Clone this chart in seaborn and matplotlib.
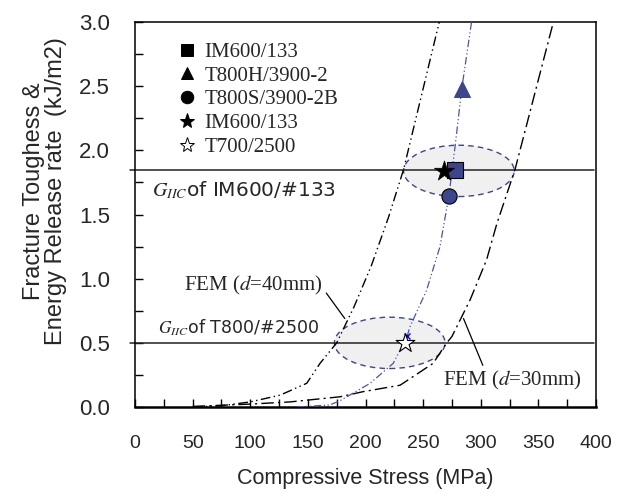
import matplotlib
matplotlib.use("Agg")
import matplotlib.pyplot as plt
from matplotlib.patches import Ellipse
from matplotlib.lines import Line2D
from matplotlib.ticker import MultipleLocator, FormatStrFormatter
import seaborn as sns
import pandas as pd

# --- curves (stress MPa, G kJ/m2) ---
fem40_x = [50, 75, 100, 126, 149, 160.5, 175, 190, 205, 220, 233, 247, 264]
fem40_y = [0.0, 0.01, 0.04, 0.093, 0.185, 0.34, 0.50, 0.78, 1.10, 1.48, 1.85, 2.37, 3.0]

fem30_x = [50, 100, 134.5, 178, 198, 230, 258.6, 270.5, 275, 290.7, 305, 314, 329.7, 363]
fem30_y = [0.005, 0.023, 0.04, 0.08, 0.12, 0.17, 0.34, 0.50, 0.55, 0.834, 1.146, 1.43, 1.85, 3.0]

test_x = [140, 169, 178, 204, 224, 235.7, 238.6, 253, 264.6, 272.4, 277.7, 283.5, 292]
test_y = [0.0, 0.016, 0.05, 0.185, 0.34, 0.54, 0.626, 0.91, 1.25, 1.647, 2.03, 2.48, 3.0]

# --- measured points ---
labels = ["IM600/133", "T800H/3900-2", "T800S/3900-2B", "IM600/133", "T700/2500"]
pt_x = [278, 283.5, 272.5, 268, 234]
pt_y = [1.85, 2.48, 1.645, 1.84, 0.497]

g_im600 = 1.85
g_t800 = 0.50

navy = "#3d468c"
line_blue = "#4a55a5"

sns.set_theme(style="ticks")
plt.rcParams["font.family"] = ["Liberation Sans", "DejaVu Sans"]
plt.rcParams["mathtext.fontset"] = "stix"

fig = plt.figure(figsize=(6.17, 4.97), dpi=100)
ax = fig.add_axes([0.2188, 0.181, 0.7472, 0.7747])

# scatter regions
for cx, cy in [(281, 1.84), (221, 0.50)]:
    ax.add_patch(Ellipse((cx, cy), 96, 0.40, facecolor="#f0f0f0",
                         edgecolor=navy, linestyle=(0, (4, 3)), linewidth=1.0, zorder=1))

# G_IIC levels
for g in [g_im600, g_t800]:
    ax.plot([-4.5, 398], [g, g], color="#222222", linewidth=1.1, clip_on=False, zorder=2)

df40 = pd.DataFrame({"x": fem40_x, "y": fem40_y})
df30 = pd.DataFrame({"x": fem30_x, "y": fem30_y})
dft = pd.DataFrame({"x": test_x, "y": test_y})
sns.lineplot(data=df40, x="x", y="y", ax=ax, sort=False, estimator=None, color="black",
             linewidth=1.0, linestyle=(0, (7, 2.5, 1, 2.5, 1, 2.5)), zorder=3)
sns.lineplot(data=df30, x="x", y="y", ax=ax, sort=False, estimator=None, color="black",
             linewidth=1.0, linestyle=(0, (9, 3, 1.5, 3)), zorder=3)
sns.lineplot(data=dft, x="x", y="y", ax=ax, sort=False, estimator=None, color=line_blue,
             linewidth=0.9, linestyle=(0, (6, 2, 1, 2, 1, 2)), zorder=3)

# data markers
sns.scatterplot(x=[pt_x[2]], y=[pt_y[2]], marker="o", s=120, color=navy, edgecolor="black",
                linewidth=0.8, ax=ax, zorder=5)
sns.scatterplot(x=[pt_x[1]], y=[pt_y[1]], marker="^", s=130, color=navy, edgecolor=navy,
                linewidth=0.8, ax=ax, zorder=5)
sns.scatterplot(x=[pt_x[0]], y=[pt_y[0]], marker="s", s=120, color=navy, edgecolor="black",
                linewidth=0.8, ax=ax, zorder=5)
ax.plot([272.5], [1.86], marker="_", color="red", markersize=7, zorder=6)
sns.scatterplot(x=[pt_x[3]], y=[pt_y[3]], marker="*", s=230, color="black", edgecolor="black",
                linewidth=0.5, ax=ax, zorder=7)
ax.plot([236], [0.55], marker="x", color="blue", markersize=5, zorder=6)
sns.scatterplot(x=[pt_x[4]], y=[pt_y[4]], marker="*", s=200, color="white", edgecolor="black",
                linewidth=0.8, ax=ax, zorder=7)

# legend with black markers
mk = ["s", "^", "o", "*", "*"]
handles = []
for i, (m, lab) in enumerate(zip(mk, labels)):
    fc = "white" if i == 4 else "black"
    handles.append(Line2D([], [], linestyle="none", marker=m, markersize=9 if m != "*" else 11,
                          markerfacecolor=fc, markeredgecolor="black", markeredgewidth=0.7,
                          label=lab))
ax.legend(handles=handles, loc="upper left", bbox_to_anchor=(0.058, 0.985), frameon=False,
          prop={"family": "Liberation Serif", "size": 15}, handlelength=1.0,
          handletextpad=0.35, labelspacing=0.2, borderpad=0.2)

# annotations
ax.text(14.5, 1.69, r"$G_{IIC}$of IM600/#133", fontsize=14.5, va="center",
        family="DejaVu Sans")
ax.text(20, 0.62, r"$G_{IIC}$of T800/#2500", fontsize=12.5, va="center",
        family="DejaVu Sans")
ax.annotate("FEM ($d$=40mm)", xy=(182, 0.69), xytext=(103, 0.95), fontsize=15,
            ha="center", va="center", family="Liberation Serif",
            arrowprops=dict(arrowstyle="-", color="black", linewidth=0.9,
                            shrinkA=0, shrinkB=0, relpos=(1.0, 0.35)))
ax.annotate("FEM ($d$=30mm)", xy=(285, 0.69), xytext=(327, 0.21), fontsize=15,
            ha="center", va="center", family="Liberation Serif",
            arrowprops=dict(arrowstyle="-", color="black", linewidth=0.9,
                            shrinkA=0, shrinkB=0, relpos=(0.3, 1.0)))

ax.set_xlim(0, 400)
ax.set_ylim(0, 3.0)
ax.xaxis.set_major_locator(MultipleLocator(50))
ax.xaxis.set_minor_locator(MultipleLocator(25))
ax.yaxis.set_major_locator(MultipleLocator(0.5))
ax.yaxis.set_minor_locator(MultipleLocator(0.25))
ax.yaxis.set_major_formatter(FormatStrFormatter("%.1f"))
ax.tick_params(which="both", direction="in", top=False, right=False, color="black")
ax.tick_params(which="both", length=6, width=1.0)
ax.tick_params(axis="x", labelsize=14, pad=20)
ax.tick_params(axis="y", labelsize=16, pad=18)
for s in ax.spines.values():
    s.set_color("black")
    s.set_linewidth(1.1)
ax.spines["bottom"].set_linewidth(1.8)

ax.set_xlabel("Compressive Stress (MPa)", fontsize=15.5, labelpad=12)
ax.set_ylabel("Fracture Toughess &\nEnergy Release rate  (kJ/m2)", fontsize=17,
              linespacing=1.0)
ax.yaxis.set_label_coords(-0.148, 0.56)

fig.savefig("out.png", dpi=100)
